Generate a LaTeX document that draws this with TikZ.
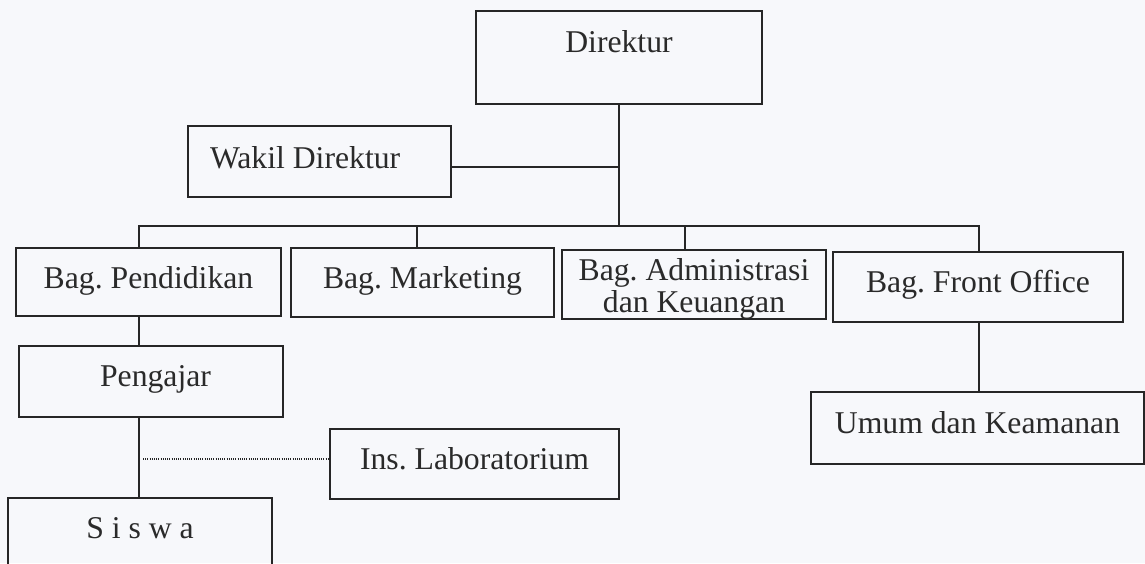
\documentclass[tikz,border=0pt]{standalone}
\usepackage{fontspec}
\setmainfont{Liberation Serif}
\definecolor{ink}{HTML}{262626}
\definecolor{txt}{HTML}{2A2A2A}
\definecolor{bg}{HTML}{F7F8FB}
\frenchspacing
\begin{document}
\begin{tikzpicture}[x=0.5pt,y=-0.5pt,
  bx/.style={draw=ink, line width=1.1pt, inner xsep=0pt, inner ysep=0pt, text=txt,
    font=\fontsize{15.85pt}{16pt}\selectfont},
  ln/.style={draw=ink, line width=0.8pt},
  dotln/.style={draw=ink, line width=0.7pt, dash pattern=on 0.5pt off 0.6pt}]
\useasboundingbox (0,0) rectangle (1145,563);
\clip (0,0) rectangle (1145,563);
\fill[bg] (0,0) rectangle (1145,563);

\node[bx, minimum width=143pt, text height=20.5pt, text depth=26pt] (dir) at (619,57.5) {Direktur};
\node[bx, minimum width=131.5pt, text height=21pt, text depth=14.5pt] (wak) at (319.5,161.5)
  {\makebox[131.5pt][l]{\hspace{11pt}Wakil Direktur}};
\node[bx, minimum width=132.5pt, text height=20pt, text depth=14pt] (pend) at (148.5,282) {Bag. Pendidikan};
\node[bx, minimum width=131.5pt, text height=20pt, text depth=14.5pt] (mkt) at (422.5,282.5) {Bag. Marketing};
\node[bx, minimum width=132pt, text height=15pt, text depth=19.5pt] (adm) at (694,284.5)
  {\begin{tabular}[t]{@{}c@{}}Bag. Administrasi\\dan Keuangan\end{tabular}};
\node[bx, minimum width=145pt, text height=20pt, text depth=15pt] (fo) at (978,287) {Bag. Front Office};
\node[bx, minimum width=132pt, text height=20pt, text depth=15.5pt] (peng) at (151,381.5) {\hspace*{4.5pt}Pengajar};
\node[bx, minimum width=132pt, text height=20pt, text depth=21pt] (sis) at (140,539) {S i s w a};
\node[bx, minimum width=144.5pt, text height=20pt, text depth=15pt] (ins) at (474.5,464) {Ins. Laboratorium};
\node[bx, minimum width=166.5pt, text height=20.5pt, text depth=15.5pt] (umum) at (977.5,428) {Umum dan Keamanan};

\coordinate (jw) at (619,167);
\coordinate (bd) at (619,226);
\coordinate (b1) at (139,226);
\coordinate (b2) at (417,226);
\coordinate (b3) at (685,226);
\coordinate (b4) at (979,226);
\coordinate (dl) at (143,459);

\draw[ln] (dir.south) -- (bd);
\draw[ln] (wak.east |- jw) -- (jw);
\draw[ln] (pend.north -| b1) |- (b4) -- (fo.north -| b4);
\draw[ln] (b2) -- (mkt.north -| b2);
\draw[ln] (b3) -- (adm.north -| b3);
\draw[ln] (pend.south -| b1) -- (peng.north -| b1);
\draw[ln] (peng.south -| b1) -- (sis.north -| b1);
\draw[dotln] (dl) -- (ins.west |- dl);
\draw[ln] (fo.south -| b4) -- (umum.north -| b4);
\end{tikzpicture}
\end{document}
